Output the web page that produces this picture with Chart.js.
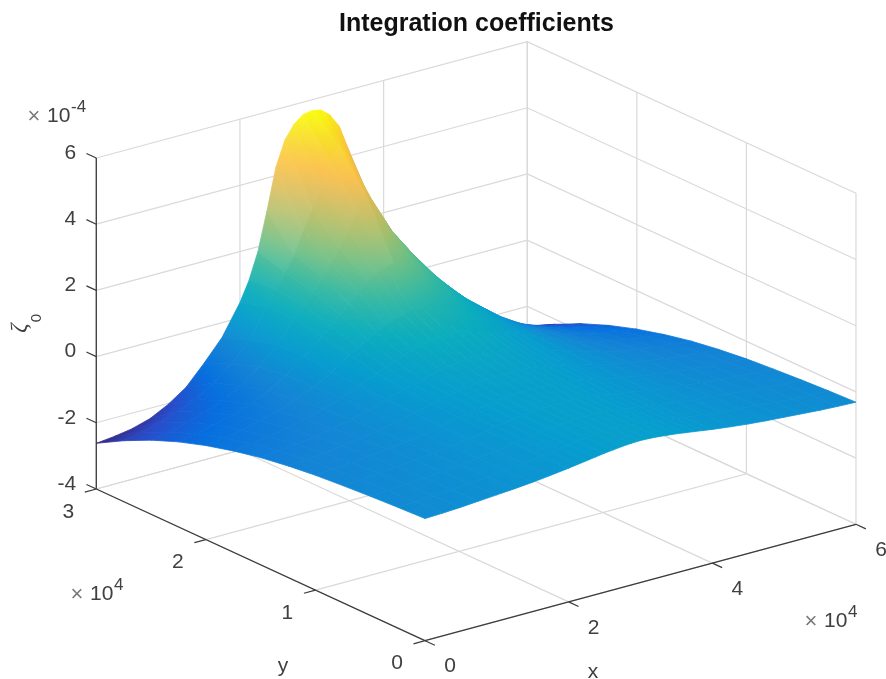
<!DOCTYPE html>
<html>
<head>
<meta charset="utf-8">
<title>Integration coefficients</title>
<script src="https://cdn.jsdelivr.net/npm/chart.js@4"></script>
<style>
  html, body { margin: 0; padding: 0; background: #fff; }
  #wrap { position: relative; width: 886px; height: 679px; }
</style>
</head>
<body>
<div id="wrap"><canvas id="surface-chart"></canvas></div>
<script>
// ---- data (x, y in 1e4, zeta in 1e-4) ----
const xValues = [0, 0.25, 0.5, 0.75, 1, 1.25, 1.5, 1.75, 2, 2.125, 2.25, 2.375, 2.5, 2.625, 2.75, 2.875, 3,
    3.125, 3.25, 3.375, 3.5, 3.625, 3.75, 3.875, 4, 4.25, 4.5, 4.75, 5, 5.25, 5.5, 5.75, 6];
const yValues = [0, 0.25, 0.5, 0.75, 1, 1.25, 1.5, 1.75, 2, 2.25, 2.5, 2.75, 3];

const zetaY0 = [-0.31, -0.29, -0.26, -0.22, -0.18, -0.14, -0.09, -0.03, 0.04, 0.08, 0.12, 0.16, 0.20, 0.23, 0.26, 0.28, 0.29,
    0.28, 0.26, 0.23, 0.20, 0.16, 0.12, 0.08, 0.04, -0.03, -0.09, -0.14, -0.18, -0.22, -0.26, -0.29, -0.31];
const zetaY025 = [-0.35, -0.33, -0.30, -0.26, -0.21, -0.16, -0.11, -0.05, 0.02, 0.06, 0.10, 0.14, 0.18, 0.21, 0.24, 0.26, 0.27,
    0.26, 0.24, 0.21, 0.18, 0.14, 0.10, 0.06, 0.02, -0.05, -0.11, -0.16, -0.21, -0.26, -0.30, -0.33, -0.35];
const zetaY05 = [-0.40, -0.37, -0.33, -0.29, -0.24, -0.18, -0.12, -0.05, 0.03, 0.07, 0.11, 0.15, 0.19, 0.22, 0.25, 0.26, 0.27,
    0.26, 0.25, 0.22, 0.19, 0.15, 0.11, 0.07, 0.03, -0.05, -0.12, -0.18, -0.24, -0.29, -0.33, -0.37, -0.40];
const zetaY075 = [-0.46, -0.43, -0.38, -0.33, -0.28, -0.22, -0.15, -0.07, 0.02, 0.07, 0.11, 0.15, 0.20, 0.23, 0.26, 0.27, 0.28,
    0.27, 0.26, 0.23, 0.20, 0.15, 0.11, 0.07, 0.02, -0.07, -0.15, -0.22, -0.28, -0.33, -0.38, -0.43, -0.46];
const zetaY1 = [-0.53, -0.49, -0.44, -0.39, -0.33, -0.26, -0.17, -0.07, 0.04, 0.09, 0.14, 0.19, 0.23, 0.27, 0.29, 0.30, 0.31,
    0.30, 0.29, 0.27, 0.23, 0.19, 0.14, 0.09, 0.04, -0.07, -0.17, -0.26, -0.33, -0.39, -0.44, -0.49, -0.53];
const zetaY125 = [-0.63, -0.58, -0.53, -0.46, -0.39, -0.30, -0.19, -0.06, 0.07, 0.13, 0.19, 0.25, 0.30, 0.34, 0.37, 0.38, 0.39,
    0.38, 0.37, 0.34, 0.30, 0.25, 0.19, 0.13, 0.07, -0.06, -0.19, -0.30, -0.39, -0.46, -0.53, -0.58, -0.63];
const zetaY15 = [-0.76, -0.71, -0.65, -0.56, -0.47, -0.34, -0.20, -0.04, 0.13, 0.20, 0.28, 0.35, 0.43, 0.48, 0.51, 0.53, 0.54,
    0.53, 0.51, 0.48, 0.43, 0.35, 0.28, 0.20, 0.13, -0.04, -0.20, -0.34, -0.47, -0.56, -0.65, -0.71, -0.76];
const zetaY175 = [-0.94, -0.87, -0.80, -0.69, -0.57, -0.41, -0.22, 0.00, 0.24, 0.34, 0.45, 0.55, 0.66, 0.74, 0.80, 0.82, 0.84,
    0.82, 0.80, 0.74, 0.66, 0.55, 0.45, 0.34, 0.24, 0.00, -0.22, -0.41, -0.57, -0.69, -0.80, -0.87, -0.94];
const zetaY2 = [-1.16, -1.08, -0.98, -0.85, -0.70, -0.50, -0.26, 0.04, 0.40, 0.56, 0.72, 0.87, 1.00, 1.11, 1.19, 1.24, 1.26,
    1.24, 1.19, 1.11, 1.00, 0.87, 0.72, 0.56, 0.40, 0.04, -0.26, -0.50, -0.70, -0.85, -0.98, -1.08, -1.16];
const zetaY225 = [-1.43, -1.33, -1.21, -1.06, -0.88, -0.63, -0.30, 0.12, 0.56, 0.82, 1.09, 1.36, 1.63, 1.86, 2.05, 2.16, 2.21,
    2.16, 2.05, 1.86, 1.63, 1.36, 1.09, 0.82, 0.56, 0.12, -0.30, -0.63, -0.88, -1.06, -1.21, -1.33, -1.43];
const zetaY25 = [-1.76, -1.66, -1.53, -1.36, -1.16, -0.84, -0.42, 0.08, 0.72, 1.05, 1.38, 1.78, 2.15, 2.50, 3.00, 3.45, 3.85,
    3.45, 3.00, 2.50, 2.15, 1.78, 1.38, 1.05, 0.72, 0.08, -0.42, -0.84, -1.16, -1.36, -1.53, -1.66, -1.76];
const zetaY275 = [-2.16, -2.05, -1.91, -1.72, -1.50, -1.15, -0.72, -0.15, 0.72, 1.15, 1.60, 2.05, 2.70, 3.30, 3.90, 4.60, 5.00,
    4.60, 3.90, 3.30, 2.70, 2.05, 1.60, 1.15, 0.72, -0.15, -0.72, -1.15, -1.50, -1.72, -1.91, -2.05, -2.16];
const zetaY3 = [-2.62, -2.56, -2.47, -2.31, -2.03, -1.66, -1.08, -0.45, 0.46, 1.05, 1.85, 3.00, 4.25, 5.00, 5.40, 5.62, 5.67,
    5.62, 5.40, 5.00, 4.25, 3.00, 1.85, 1.05, 0.46, -0.45, -1.08, -1.66, -2.03, -2.31, -2.47, -2.56, -2.62];
const zetaRows = [zetaY0, zetaY025, zetaY05, zetaY075, zetaY1, zetaY125, zetaY15, zetaY175, zetaY2, zetaY225, zetaY25, zetaY275, zetaY3];

const xTicks = [0, 2, 4, 6];
const yTicks = [0, 1, 2, 3];
const zTicks = [-4, -2, 0, 2, 4, 6];

// parula
const colormap = [
    [53, 42, 135], [41, 76, 202], [6, 111, 223], [20, 132, 213], [7, 156, 207], [11, 173, 189],
    [51, 184, 161], [112, 191, 132], [165, 190, 107], [211, 187, 88], [251, 188, 65], [248, 214, 39], [249, 251, 14]
];
const colorMin = -2.62;
const colorMax = 5.67;

// fixed orthographic view, axes box corners measured on the picture
function project(x, y, z) {
    return {
        x: 425 + 71.83 * x - 109.57 * y,
        y: 640.7 - 19.4 * x - 50.57 * y - 33.1 * (z + 4)
    };
}

// pale mixes towards white: the reference mesh shows gaps where it faces the viewer
function zetaColor(z, pale) {
    let t = (z - colorMin) / (colorMax - colorMin);
    t = Math.max(0, Math.min(1, t)) * (colormap.length - 1);
    const i = Math.min(Math.floor(t), colormap.length - 2);
    const f = t - i;
    const c = colormap[i].map((v, k) => {
        const mixed = v + (colormap[i + 1][k] - v) * f;
        return Math.round(mixed + (255 - mixed) * pale);
    });
    return 'rgb(' + c.join(',') + ')';
}

// one dataset per mesh cell, front cells first (first dataset is painted last)
const cells = [];
for (let j = 0; j < yValues.length - 1; j++) {
    for (let i = 0; i < xValues.length - 1; i++) {
        const corners = [[i, j], [i + 1, j], [i + 1, j + 1], [i, j + 1]];
        cells.push({
            depth: 19.4 * (xValues[i] + xValues[i + 1]) + 50.57 * (yValues[j] + yValues[j + 1]),
            groundArea: 5758 * (xValues[i + 1] - xValues[i]) * (yValues[j + 1] - yValues[j]),
            zs: corners.map(c => zetaRows[c[1]][c[0]]),
            data: corners.map(c => project(xValues[c[0]], yValues[c[1]], zetaRows[c[1]][c[0]]))
        });
    }
}
cells.sort((a, b) => a.depth - b.depth);

const cellDatasets = cells.map(c => ({
    data: c.data,
    zs: c.zs,
    groundArea: c.groundArea,
    showLine: false,
    pointRadius: 0
}));

function lineSet(points, color, width) {
    return {
        data: points.map(p => project(p[0], p[1], p[2])),
        showLine: true,
        borderColor: color,
        borderWidth: width,
        pointRadius: 0
    };
}

const axisColor = '#3c3c3c';
const gridColor = '#d9d9d9';

const axisDatasets = [
    lineSet([[0, 3, -4], [0, 3, 6]], axisColor, 1.3),
    lineSet([[0, 3, -4], [0, 0, -4]], axisColor, 1.3),
    lineSet([[0, 0, -4], [6, 0, -4]], axisColor, 1.3)
];
zTicks.forEach(z => axisDatasets.push(lineSet([[0, 3, z], [0, 3.09, z]], axisColor, 1.2)));
yTicks.forEach(y => axisDatasets.push(lineSet([[0, y, -4], [-0.16, y, -4]], axisColor, 1.2)));
xTicks.forEach(x => axisDatasets.push(lineSet([[x, 0, -4], [x, -0.09, -4]], axisColor, 1.2)));

const gridDatasets = [];
zTicks.forEach(z => gridDatasets.push(lineSet([[0, 3, z], [6, 3, z], [6, 0, z]], gridColor, 1.2)));
xTicks.forEach(x => gridDatasets.push(lineSet([[x, 0, -4], [x, 3, -4], [x, 3, 6]], gridColor, 1.2)));
yTicks.forEach(y => gridDatasets.push(lineSet([[0, y, -4], [6, y, -4], [6, y, 6]], gridColor, 1.2)));

// paints a mesh cell from its projected points, gradient follows the slope of the cell
const surfacePlugin = {
    id: 'surfacePlugin',
    beforeDatasetDraw(chart, args) {
        const ds = chart.data.datasets[args.index];
        if (!ds.zs) return;
        const pts = args.meta.data;
        const ctx = chart.ctx;
        const zs = ds.zs;
        const zMin = Math.min(...zs);
        const zMax = Math.max(...zs);

        const ax = pts[2].x - pts[0].x, ay = pts[2].y - pts[0].y, az = zs[2] - zs[0];
        const bx = pts[3].x - pts[1].x, by = pts[3].y - pts[1].y, bz = zs[3] - zs[1];
        const det = ax * by - ay * bx;

        const stretch = Math.abs(det) / 2 / ds.groundArea;
        const pale = Math.min(0.14, Math.max(0, (stretch - 2) * 0.025));

        let paint = zetaColor((zMin + zMax) / 2, pale);
        if (Math.abs(det) > 1 && zMax - zMin > 0.001) {
            const gx = (az * by - ay * bz) / det;
            const gy = (ax * bz - az * bx) / det;
            const g2 = gx * gx + gy * gy;
            const cx = (pts[0].x + pts[1].x + pts[2].x + pts[3].x) / 4;
            const cy = (pts[0].y + pts[1].y + pts[2].y + pts[3].y) / 4;
            const zc = (zs[0] + zs[1] + zs[2] + zs[3]) / 4;
            const grad = ctx.createLinearGradient(
                cx + gx / g2 * (zMin - zc), cy + gy / g2 * (zMin - zc),
                cx + gx / g2 * (zMax - zc), cy + gy / g2 * (zMax - zc)
            );
            for (let k = 0; k <= 4; k++) {
                grad.addColorStop(k / 4, zetaColor(zMin + (zMax - zMin) * k / 4, pale));
            }
            paint = grad;
        }
        ctx.save();
        ctx.beginPath();
        pts.forEach((p, k) => (k ? ctx.lineTo(p.x, p.y) : ctx.moveTo(p.x, p.y)));
        ctx.closePath();
        ctx.fillStyle = paint;
        ctx.strokeStyle = paint;
        ctx.lineWidth = 0.8;
        ctx.fill();
        ctx.stroke();
        ctx.restore();
    }
};

const textColor = '#404040';
const tickFont = '21px "Liberation Sans"';

// tick labels, axis names and the exponent notes
const labelPlugin = {
    id: 'labelPlugin',
    afterDraw(chart) {
        const ctx = chart.ctx;
        const sx = chart.scales.x;
        const sy = chart.scales.y;
        const at = p => ({ x: sx.getPixelForValue(p.x), y: sy.getPixelForValue(p.y) });

        function put(text, x, y, font, color, align) {
            ctx.font = font;
            ctx.fillStyle = color;
            ctx.textAlign = align || 'center';
            ctx.textBaseline = 'middle';
            ctx.fillText(text, x, y);
        }

        ctx.save();
        zTicks.forEach(z => {
            const p = at(project(0, 3, z));
            put(String(z), p.x - 20, p.y - 5, tickFont, textColor, 'right');
        });
        yTicks.forEach(y => {
            const p = at(project(0, y, -4));
            put(String(y), p.x - 28, p.y + 23, tickFont, textColor);
        });
        xTicks.forEach(x => {
            const p = at(project(x, 0, -4));
            put(String(x), p.x + 25, p.y + 26, tickFont, textColor);
        });

        put('x', 593, 672, tickFont, textColor);
        put('y', 283, 666, tickFont, textColor);

        // exponents
        const notes = [
            { x: 34, y: 117, exp: '-4', ex: 71 },
            { x: 77, y: 595, exp: '4', ex: 114 },
            { x: 811, y: 622, exp: '4', ex: 848 }
        ];
        notes.forEach(n => {
            put('\u00d7', n.x, n.y, '22px "Liberation Sans"', '#7a7a7a');
            put('10', n.x + 13, n.y - 1, tickFont, textColor, 'left');
            put(n.exp, n.ex, n.y - 10, '17px "Liberation Sans"', textColor, 'left');
        });

        // rotated zeta_0
        ctx.translate(28, 322);
        ctx.rotate(-Math.PI / 2);
        put('\u03b6', -6, -8, 'italic 23px "Liberation Serif"', textColor);
        put('0', 4, 9, '15px "Liberation Sans"', textColor);
        ctx.restore();
    }
};

new Chart(document.getElementById('surface-chart'), {
    type: 'scatter',
    data: { datasets: [...axisDatasets, ...cellDatasets, ...gridDatasets] },
    plugins: [surfacePlugin, labelPlugin],
    options: {
        responsive: true,
        maintainAspectRatio: false,
        animation: false,
        events: [],
        layout: { padding: { left: 67 } },
        scales: {
            x: { type: 'linear', display: false, min: 67, max: 886 },
            y: { type: 'linear', display: false, min: 39, max: 679, reverse: true }
        },
        plugins: {
            legend: { display: false },
            tooltip: { enabled: false },
            title: {
                display: true,
                fullSize: false,
                text: 'Integration coefficients',
                color: '#111111',
                font: { family: '"Liberation Sans"', size: 25, weight: 'bold', lineHeight: 1.2 },
                padding: { top: 9, bottom: 0 }
            }
        }
    }
});
</script>
</body>
</html>
